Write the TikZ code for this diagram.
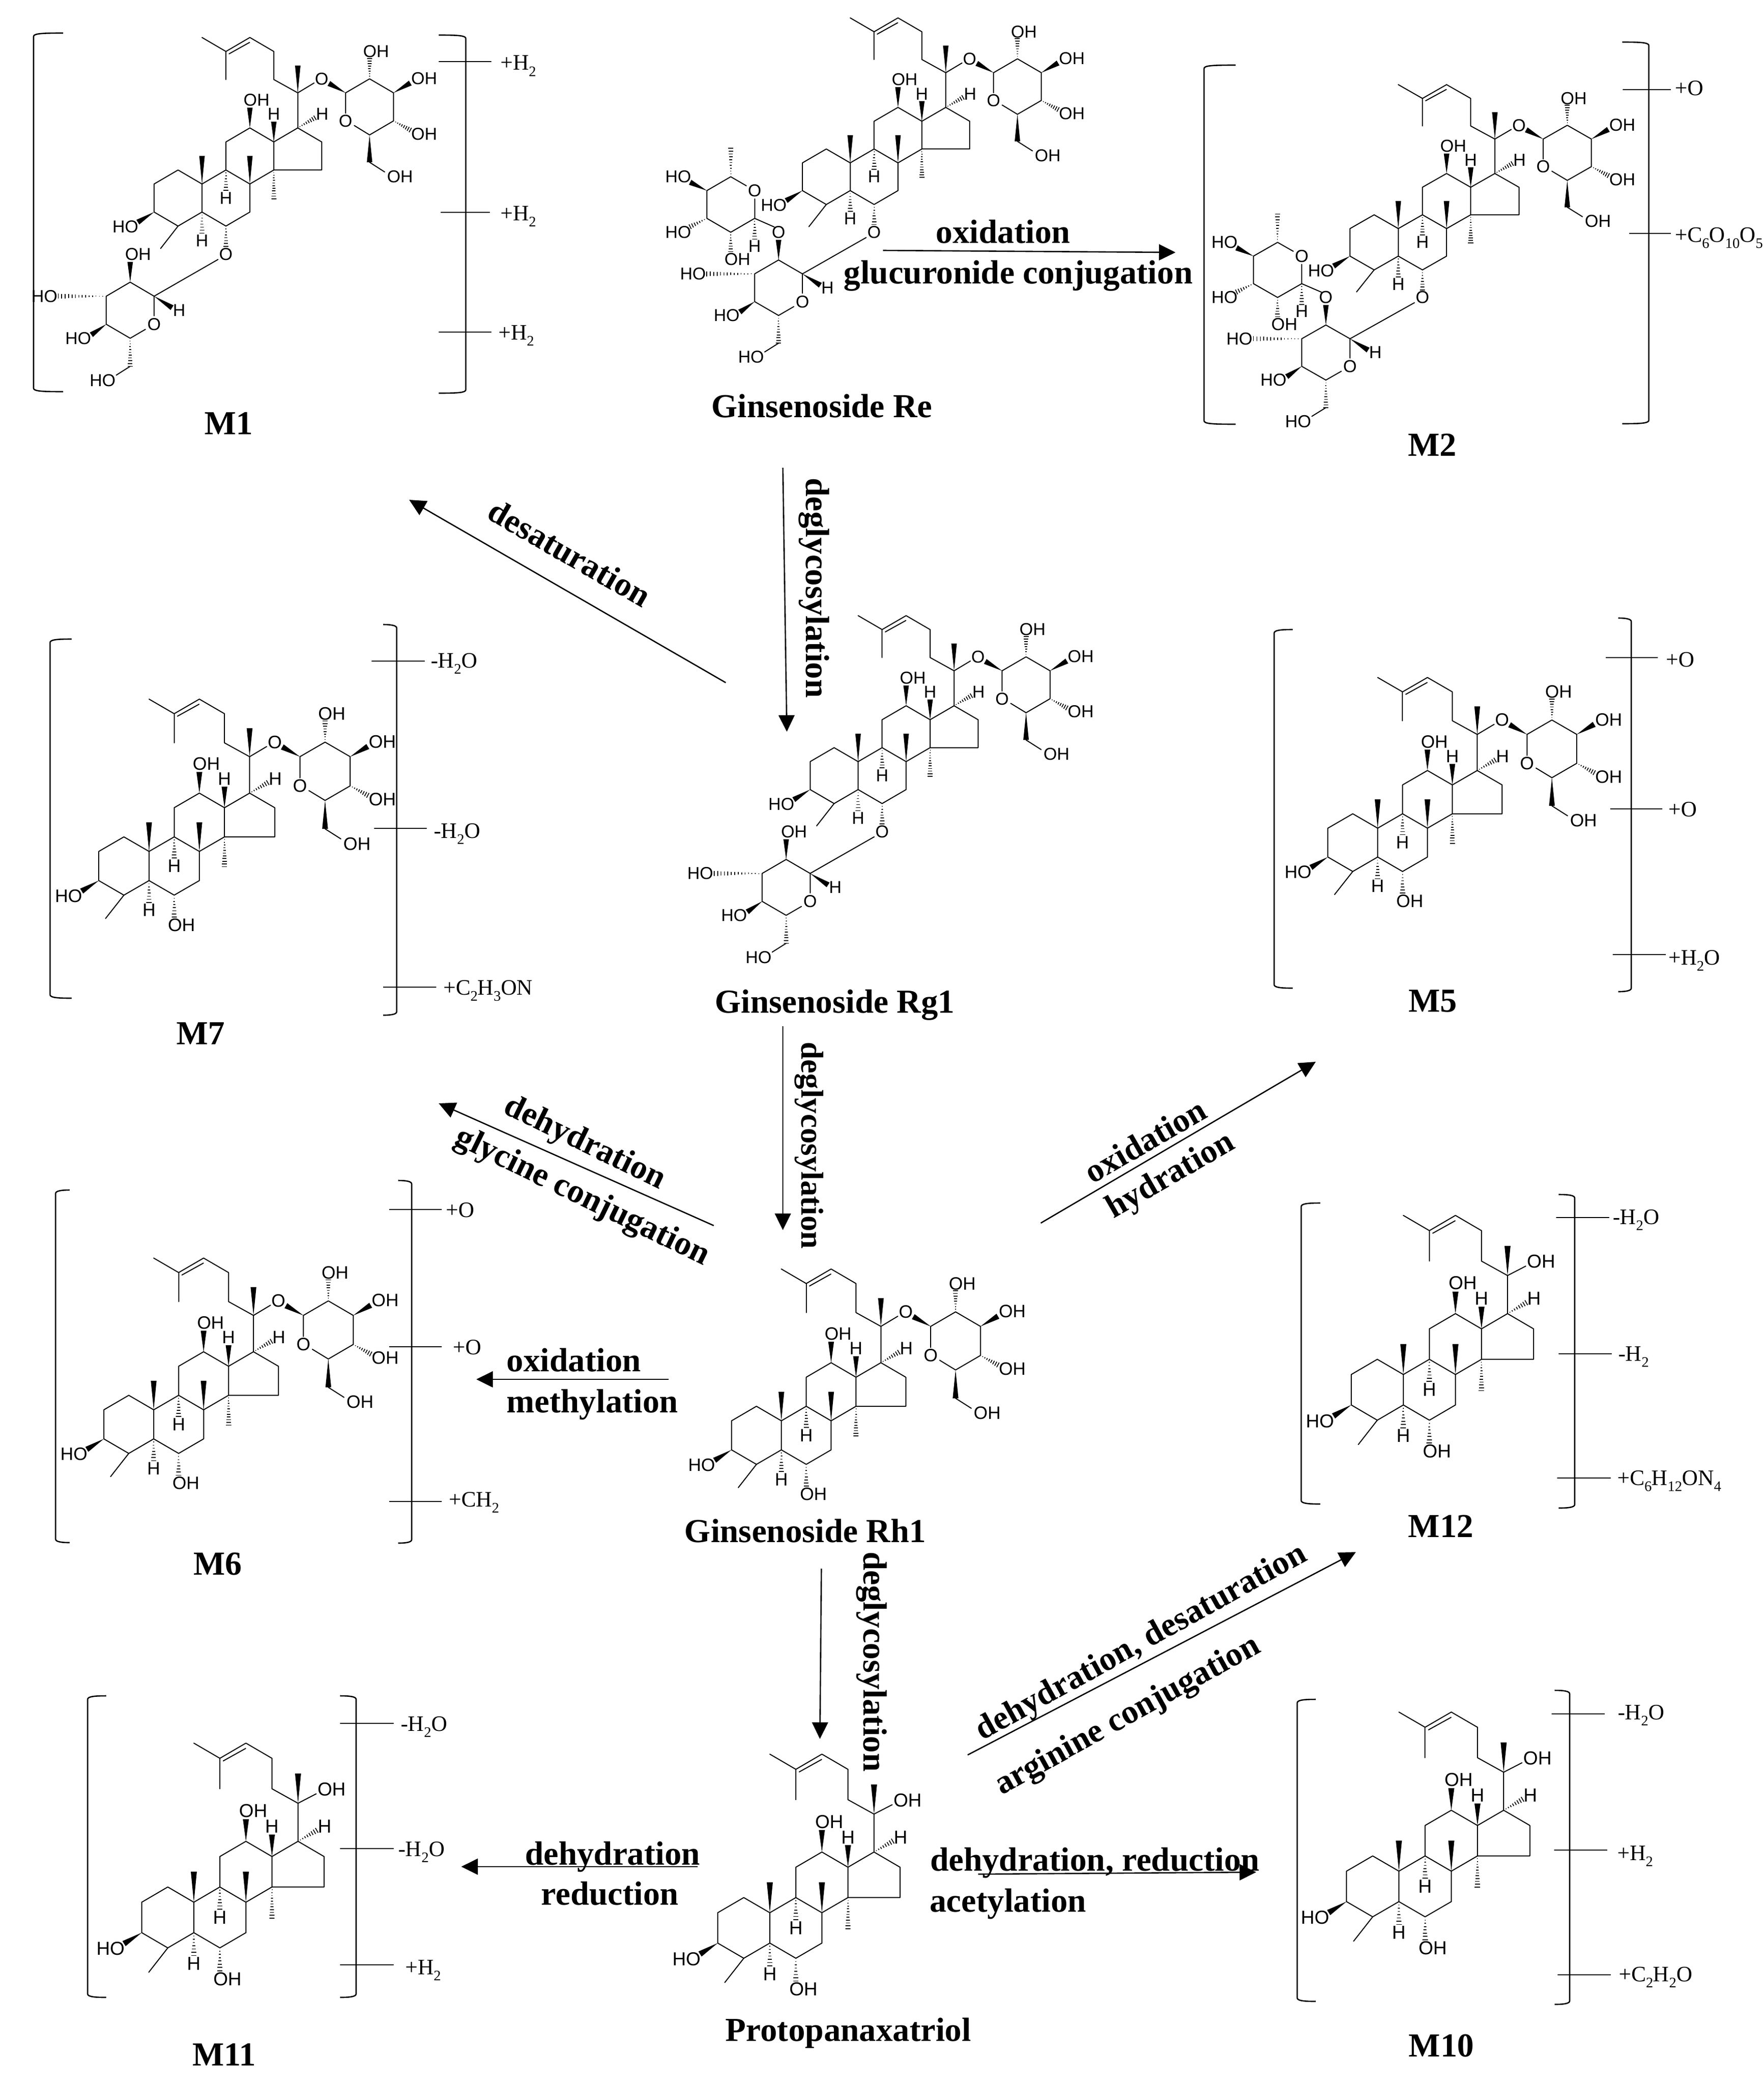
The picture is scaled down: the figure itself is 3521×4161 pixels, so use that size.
\documentclass[tikz,border=0pt]{standalone}
\usepackage{fontspec}
\setmainfont{Liberation Serif}
\newfontfamily\atomfam{Liberation Sans}
\usetikzlibrary{calc,arrows.meta}
\newcounter{atomn}
\tikzset{
  bond/.style={draw=black,line width=2pt,line join=round,line cap=round},
  stripe/.style={draw=black,line width=1.7pt},
  atom/.style={inner sep=0pt,text=black,font=\atomfam\fontsize{\fsz}{\fsz}\selectfont},
  flowline/.style={draw=black,line width=2.6pt,-{Triangle[length=33pt,width=32pt]}},
  plainline/.style={draw=black,line width=2.6pt},
  bracket/.style={draw=black,line width=2.6pt,line join=round},
  tickline/.style={draw=black,line width=2.6pt},
  steplabel/.style={inner sep=0pt,text=black,font=\bfseries\fontsize{67}{70}\selectfont,anchor=base},
  sidelabel/.style={inner sep=0pt,text=black,font=\fontsize{44}{50}\selectfont,anchor=base west}
}
\newcommand\sbs[1]{\raisebox{-0.28em}{\fontsize{29}{29}\selectfont #1}}
\newcommand\atm[2]{\stepcounter{atomn}\node[atom] (a\arabic{atomn}) at (#1) {#2};}
\newcommand\wdg[2]{\coordinate (hA) at (#1);\coordinate (hB) at (#2);
  \fill[black] (hA) -- ($(hB)!\wh pt!90:(hA)$) -- ($(hB)!\wh pt!-90:(hA)$) -- cycle;}
\newcommand\hsh[3]{\coordinate (hA) at (#1);\coordinate (hB) at (#2);
  \foreach \k in {1,...,#3}{
    \draw[stripe] ($(hA)!{\k/#3}!(hB)!{\k/#3*\hh pt}!90:(hA)$) -- ($(hA)!{\k/#3}!(hB)!{\k/#3*\hh pt}!-90:(hA)$);}}
\newcommand\mol[5]{\pgfmathsetmacro\fsz{#3*0.72}\pgfmathsetmacro\wh{#3*0.115}\pgfmathsetmacro\hh{#3*0.105}%
  \begin{scope}[shift={(#1,#2)},x=#3pt,y=#4pt]#5\end{scope}}
% common steroid body and side chain
\newcommand\body{%
  \draw[bond] (-1,1)--(-2,0)--(-2,-2)--(-1,-3)--(0,-2)--(0,0)--cycle;
  \draw[bond] (0,0)--(1,1)--(2,0)--(2,-2)--(1,-3)--(0,-2);
  \draw[bond] (1,1)--(1,3)--(2,4)--(3,3)--(3,1)--(2,0);
  \draw[bond] (3,3)--(4,4)--(5,3)--(5,1)--(3,1);
  \draw[bond] (4,4)--(4,6.5)--(3,7.45)--(3,9.45)--(2,10.45)--(1,9.45)--(0,10.45);
  \draw[bond] (1,9.45)--(1,7.45);
  \draw[bond] (1.13,9.28)--(1.99,10.1);
  \draw[bond] (-1,-3)--(-1.73,-4.6);
  \wdg{4,6.5}{4,8.45}
  \wdg{0,0}{0,2}
  \wdg{2,0}{2,2}
  \wdg{-2,-2}{-2.68,-2.72}
  \wdg{2,4}{2,5.45}
  \wdg{3,3}{3,4.45}
  \hsh{0,-2}{0,-3.5}{7}
  \hsh{1,1}{1,-0.45}{7}
  \hsh{3,1}{3,-1.05}{11}
  \hsh{4,4}{4.72,4.72}{8}
  \atm{-3.2,-3.05}{HO}
  \atm{0,-4.03}{H}
  \atm{1,-1}{H}
  \atm{2.28,6}{OH}
  \atm{3,4.98}{H}
  \atm{5.02,4.98}{H}
}
\newcommand\sixOH{\hsh{1,-3}{1,-4.5}{7}\atm{1.29,-5.04}{OH}}
\newcommand\twentyOH{\draw[bond] (4,6.5)--(4.7,7.12);\atm{5.29,7.42}{OH}}
\newcommand\glcA{%
  \draw[bond] (4,6.5)--(4.68,7.2);
  \atm{5,7.5}{O}
  \wdg{6,6.5}{5.3,7.17}
  \draw[bond] (6,5.05)--(6,6.5)--(7,7.5)--(8,6.5)--(8,4.5)--(7,3.5)--(6.36,4.17);
  \atm{6,4.5}{O}
  \hsh{7,7.5}{7,8.95}{8}\atm{7.27,9.45}{OH}
  \wdg{8,6.5}{8.7,7.2}\atm{9.28,7.53}{OH}
  \hsh{8,4.5}{8.7,3.85}{8}\atm{9.28,3.57}{OH}
  \wdg{7,3.5}{7,1.55}
  \draw[bond] (7,1.55)--(7.63,0.86);
  \atm{8.27,0.53}{OH}
}
\newcommand\glcB{%
  \hsh{1,-3}{1,-4.45}{7}\atm{1,-5}{O}
  \draw[bond] (0.67,-5.38)--(-2,-8);
  \draw[bond] (-2,-9.4)--(-2,-8)--(-3,-7)--(-4,-8)--(-4,-10)--(-3,-11)--(-2.36,-10.36);
  \atm{-2,-10}{O}
  \wdg{-3,-7}{-3,-5.55}
  \wdg{-2,-8}{-1.25,-8.82}\atm{-0.95,-9}{H}
  \hsh{-4,-8}{-6,-8}{14}\atm{-6.58,-8}{HO}
  \wdg{-4,-10}{-4.62,-10.75}\atm{-5.17,-11}{HO}
  \hsh{-3,-11}{-3,-13}{10}
  \draw[bond] (-3,-13)--(-3.58,-13.63);
  \atm{-4.15,-14}{HO}
}
\newcommand\rha{%
  \atm{-3,-5}{O}
  \draw[bond] (-3.18,-4.62)--(-4,-4)--(-5,-5)--(-6,-4)--(-6,-2)--(-5,-1)--(-4.35,-1.65);
  \draw[bond] (-4,-4)--(-4,-2.6);
  \atm{-4,-2}{O}
  \hsh{-4,-4}{-4,-5.5}{7}\atm{-4,-6}{H}
  \hsh{-5,-5}{-5,-6.4}{7}\atm{-4.72,-6.95}{OH}
  \hsh{-6,-4}{-6.7,-4.6}{7}\atm{-7.2,-5}{HO}
  \wdg{-6,-2}{-6.7,-1.4}\atm{-7.2,-1}{HO}
  \hsh{-5,-1}{-5,1.05}{10}
}
\newcommand\glcBonly{\atm{-2.67,-5}{OH}}
% brackets: left x, left tick end, top, bottom; right x, right tick end, top, bottom
\newcommand\brk[8]{%
  \draw[bracket] (#2,#3) .. controls ({#1+15},#3) and (#1,{#3+1}) .. (#1,{#3+7}) -- (#1,{#4-7}) .. controls (#1,{#4-1}) and ({#1+15},#4) .. (#2,#4);
  \draw[bracket] (#6,#7) .. controls ({#5-15},#7) and (#5,{#7+1}) .. (#5,{#7+7}) -- (#5,{#8-7}) .. controls (#5,{#8-1}) and ({#5-15},#8) .. (#6,#8);}
\newcommand\tck[3]{\draw[tickline] (#1,#3) -- (#2,#3);}
\newcommand\lab[3]{\node[sidelabel] at (#1,{#2+15}) {#3};}
\newcommand\flow[3]{\coordinate (#1s) at (#2);\coordinate (#1e) at (#3);\draw[flowline] (#1s) -- (#1e);}
\begin{document}
\begin{tikzpicture}[x=1pt,y=-1pt]
\useasboundingbox (0,0) rectangle (3521,4161);
\fill[white] (0,0) rectangle (3521,4161);

% molecules
\mol{403.3}{367.4}{47.8}{28}{\body\glcA\glcB\glcBonly}
\mol{1697.5}{325.2}{47.7}{27.7}{\body\glcA\glcB\rha}
\mol{2791.8}{456.4}{48.2}{27.5}{\body\glcA\glcB\rha}
\mol{297.6}{1700}{50.2}{29.1}{\body\glcA\sixOH}
\mol{1713.3}{1520.7}{47.9}{27.9}{\body\glcA\glcB\glcBonly}
\mol{2750.6}{1653.6}{49.7}{28.8}{\body\glcA\sixOH}
\mol{306.9}{2814.9}{49.8}{29}{\body\glcA\sixOH}
\mol{1560}{2836.8}{49.7}{29}{\body\glcA\sixOH}
\mol{2801.9}{2744.4}{52}{30.4}{\body\twentyOH\sixOH}
\mol{387}{3798}{52}{30.4}{\body\twentyOH\sixOH}
\mol{1537}{3819}{52}{30.3}{\body\twentyOH\sixOH}
\mol{2793}{3736}{52.3}{30.4}{\body\twentyOH\sixOH}

% M1
\brk{67}{126}{66}{782}{930}{876}{70}{785}
\tck{876}{981}{123}\tck{880}{978}{424}\tck{876}{981}{663}
\lab{999}{125}{+H\sbs{2}}\lab{999}{425}{+H\sbs{2}}\lab{995}{663}{+H\sbs{2}}
% M2
\brk{2404}{2467}{130}{847}{3292}{3239}{84}{846}
\tck{3240}{3336}{179}\tck{3253}{3336}{466}
\lab{3344}{176}{+O}\lab{3344}{468}{+C\sbs{6}O\sbs{10}O\sbs{5}}
% M7
\brk{100}{143}{1276}{1993}{792}{765}{1247}{2027}
\tck{742}{848}{1320}\tck{747}{852}{1654}\tck{765}{871}{1971}
\lab{860}{1318}{-H\sbs{2}O}\lab{866}{1658}{-H\sbs{2}O}\lab{885}{1971}{+C\sbs{2}H\sbs{3}ON}
% M5
\brk{2544}{2581}{1257}{1973}{3257}{3231}{1234}{1980}
\tck{3206}{3310}{1313}\tck{3215}{3319}{1615}\tck{3220}{3326}{1906}
\lab{3326}{1316}{+O}\lab{3331}{1615}{+O}\lab{3331}{1911}{+H\sbs{2}O}
% M6
\brk{111}{139}{2376}{3080}{822}{795}{2357}{3081}
\tck{777}{882}{2415}\tck{777}{882}{2689}\tck{777}{882}{2998}
\lab{890}{2415}{+O}\lab{904}{2689}{+O}\lab{896}{2993}{+CH\sbs{2}}
% M12
\brk{2598}{2636}{2402}{3003}{3144}{3112}{2385}{3011}
\tck{3107}{3213}{2431}\tck{3112}{3218}{2703}\tck{3109}{3216}{2951}
\lab{3220}{2429}{-H\sbs{2}O}\lab{3231}{2702}{-H\sbs{2}}\lab{3229}{2950}{+C\sbs{6}H\sbs{12}ON\sbs{4}}
% M11
\brk{175}{212}{3386}{3988}{711}{679}{3386}{3988}
\tck{679}{786}{3441}\tck{679}{786}{3691}\tck{679}{786}{3923}
\lab{800}{3441}{-H\sbs{2}O}\lab{795}{3691}{-H\sbs{2}O}\lab{809}{3927}{+H\sbs{2}}
% M10
\brk{2590}{2627}{3393}{3996}{3134}{3104}{3375}{4002}
\tck{3098}{3204}{3422}\tck{3103}{3209}{3694}\tck{3110}{3216}{3943}
\lab{3230}{3418}{-H\sbs{2}O}\lab{3229}{3699}{+H\sbs{2}}\lab{3232}{3941}{+C\sbs{2}H\sbs{2}O}

% compound names
\node[steplabel] (nM1) at (457,867) {M1};
\node[steplabel] (nM2) at (2860,910) {M2};
\node[steplabel] (nM7) at (401,2085) {M7};
\node[steplabel] (nM5) at (2861,2020) {M5};
\node[steplabel] (nM6) at (435,3144) {M6};
\node[steplabel] (nM12) at (2877,3069) {M12};
\node[steplabel] (nM11) at (448,4124) {M11};
\node[steplabel] (nM10) at (2878,4106) {M10};
\node[steplabel] (nRe) at (1641,833) {Ginsenoside Re};
\node[steplabel] (nRg) at (1667,2022) {Ginsenoside Rg1};
\node[steplabel] (nRh) at (1608,3079) {Ginsenoside Rh1};
\node[steplabel] (nPPT) at (1694,4075) {Protopanaxatriol};

% reaction arrows
\flow{r1}{1763,500}{2347,504}
\flow{r2}{1563,934}{1571,1461}
\flow{r3}{1449,1363}{817,998}
\flow{r4}{1563,2049}{1563,2456}
\flow{r5}{1425,2447}{876,2203}
\flow{r6}{1335,2754}{951,2754}
\flow{r7}{2078,2442}{2627,2120}
\flow{r8}{1640,3132}{1637,3472}
\flow{r9}{1932,3504}{2707,3099}
\flow{r10}{1393,3727}{921,3727}
\flow{r11}{1953,3742}{2508,3738}

% reaction labels
\node[steplabel] (t1) at (2003,485) {oxidation};
\node[steplabel] (t2) at (2033,566) {glucuronide conjugation};
\node[steplabel,rotate=-90] (t3) at (1609,1174) {deglycosylation};
\node[steplabel,rotate=-30] (t4) at (1126,1124) {desaturation};
\node[steplabel,rotate=-90,font=\bfseries\fontsize{63}{70}\selectfont] (t5) at (1600,2287) {deglycosylation};
\node[steplabel,rotate=-26] (t6) at (1160,2298) {dehydration};
\node[steplabel,rotate=-26] (t7) at (1155,2405) {glycine conjugation};
\node[steplabel] (t8) at (1146,2738) {oxidation};
\node[steplabel] (t9) at (1183,2820) {methylation};
\node[steplabel,rotate=30] (t10) at (2298,2297) {oxidation};
\node[steplabel,rotate=30] (t11) at (2346,2363) {hydration};
\node[steplabel,rotate=-90] (t12) at (1724,3318) {deglycosylation};
\node[steplabel,rotate=29] (t13) at (2287,3295) {dehydration, desaturation};
\node[steplabel,rotate=29] (t14) at (2260,3441) {arginine conjugation};
\node[steplabel] (t15) at (1223,3723) {dehydration};
\node[steplabel] (t16) at (1218,3803) {reduction};
\node[steplabel] (t17) at (2186,3735) {dehydration, reduction};
\node[steplabel,anchor=base west] (t18) at (1856,3817) {acetylation};
\end{tikzpicture}
\end{document}
